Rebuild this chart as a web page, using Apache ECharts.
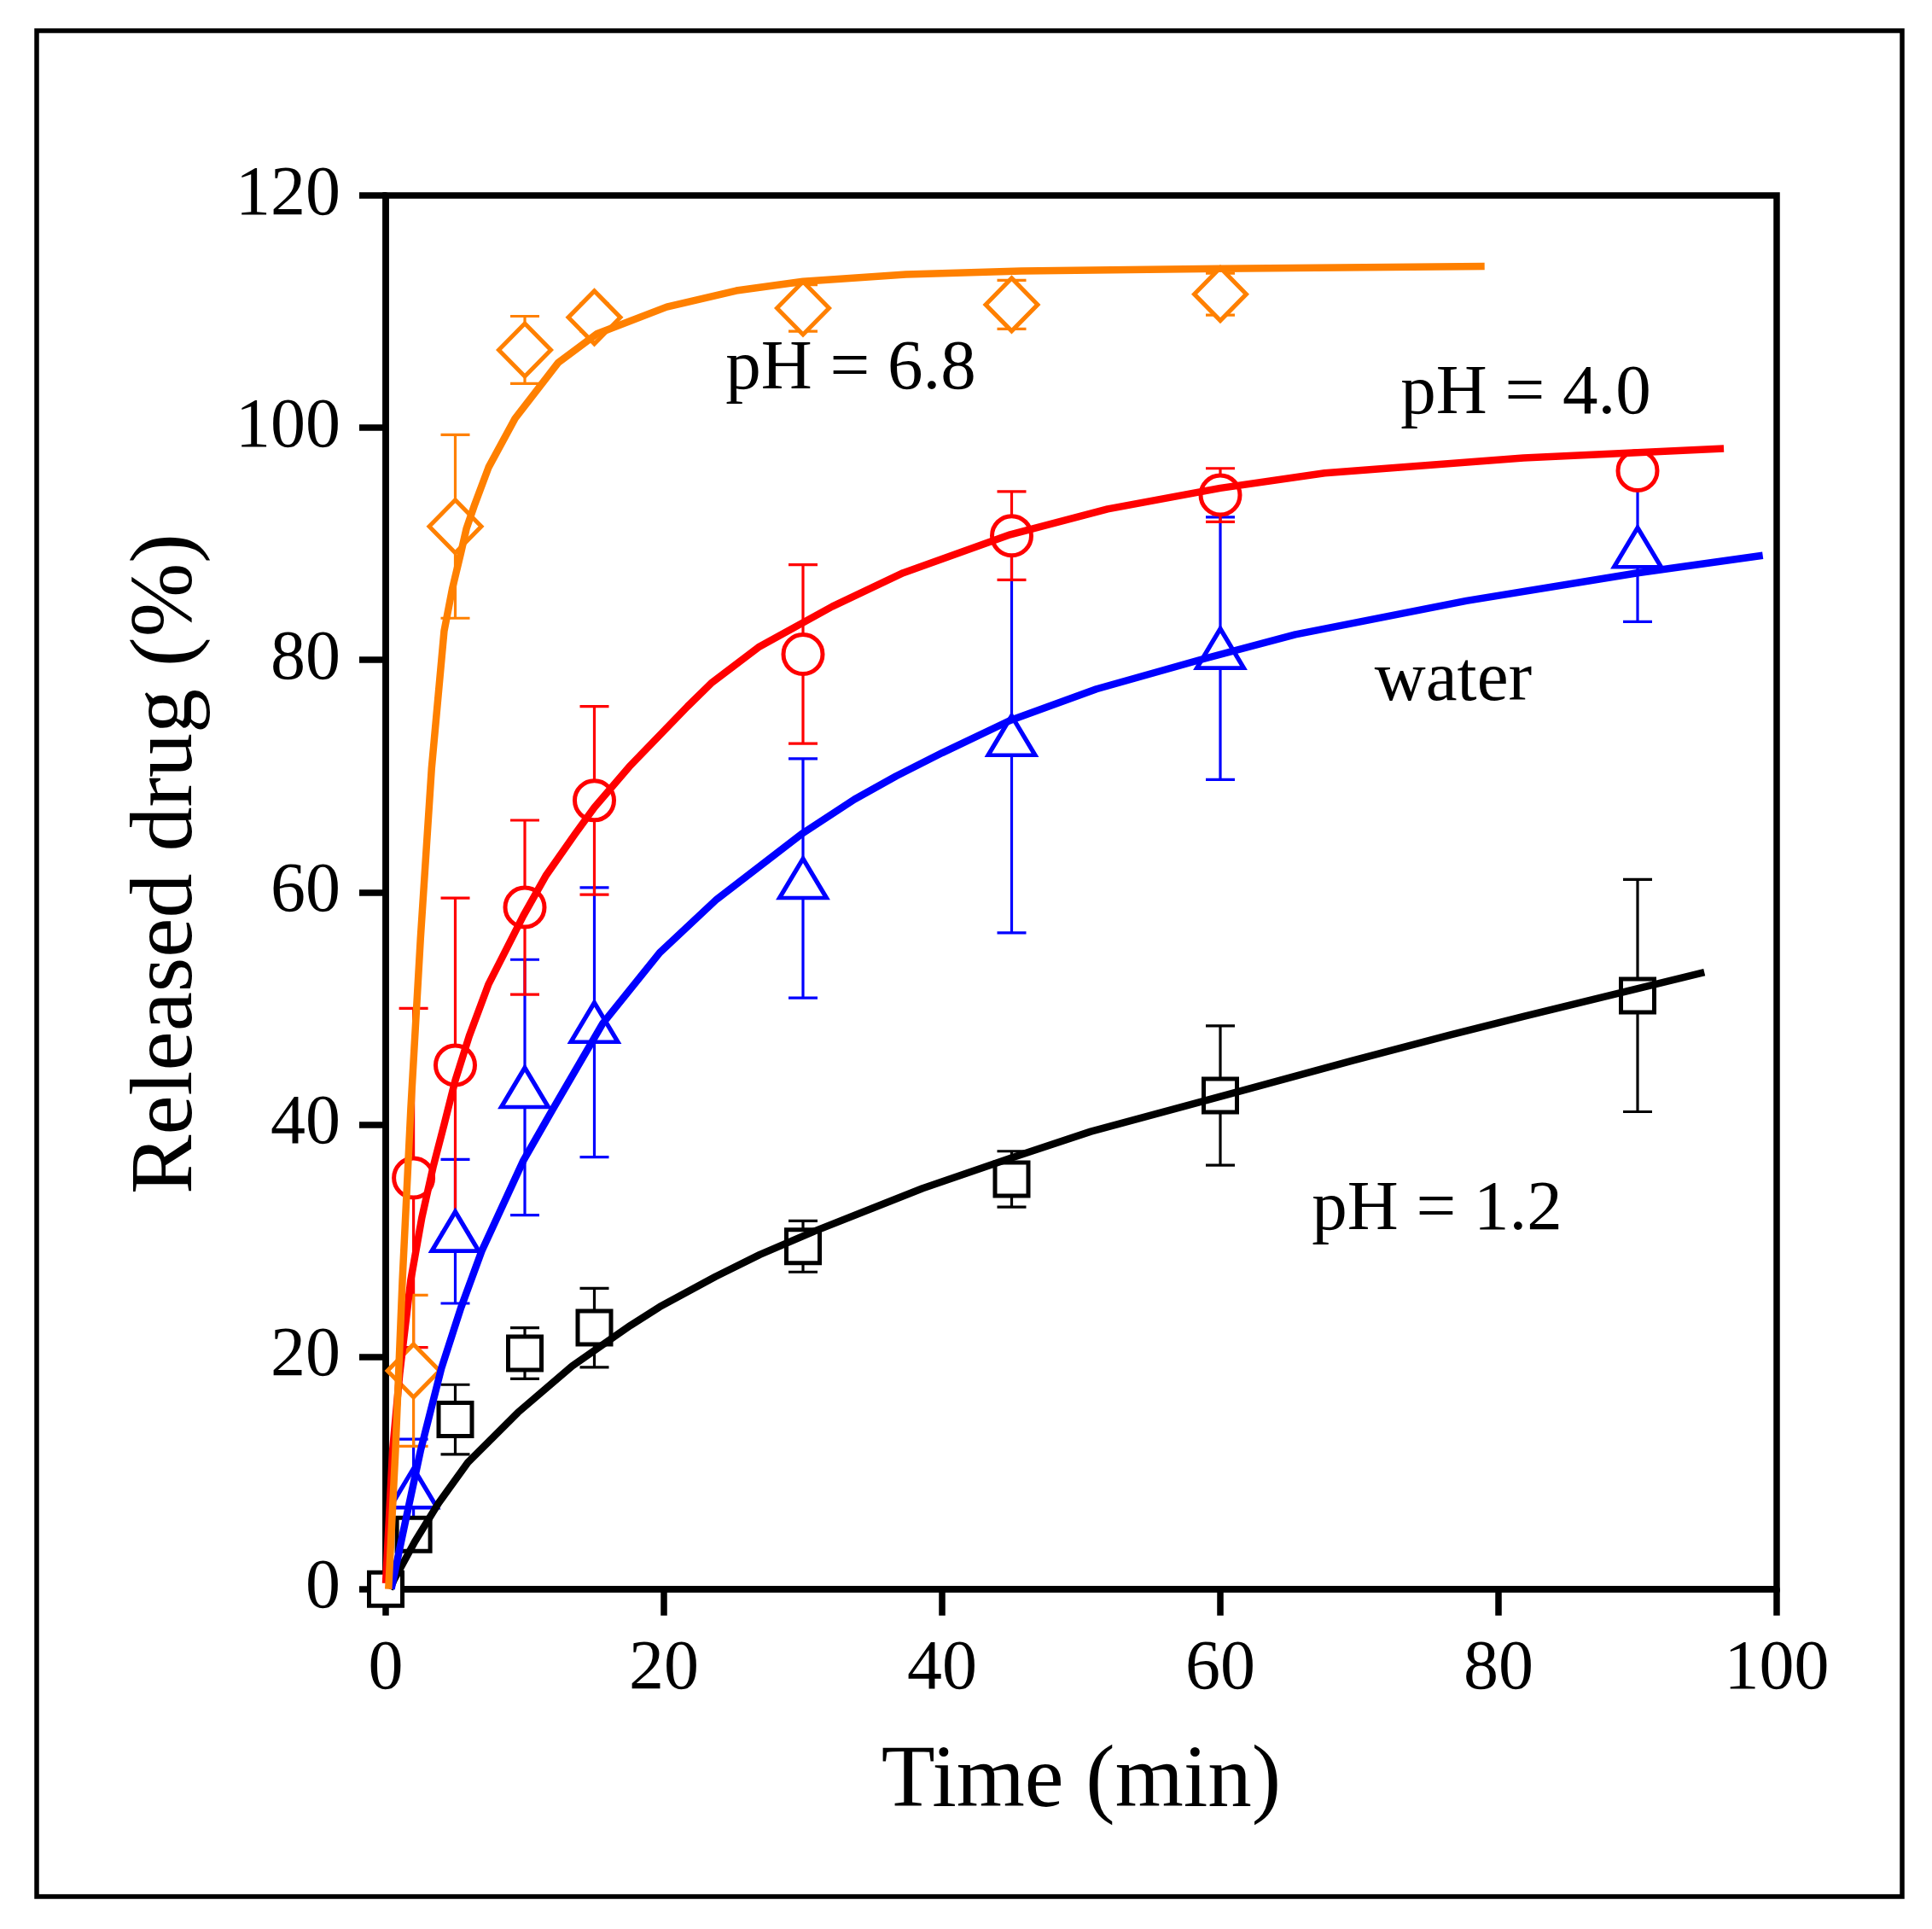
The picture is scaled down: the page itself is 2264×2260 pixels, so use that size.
<!DOCTYPE html>
<html>
<head>
<meta charset="utf-8">
<script src="https://cdn.jsdelivr.net/npm/echarts/dist/echarts.min.js"></script>
<style>
    html, body { margin: 0; padding: 0; background: #fff; }
    #main { width: 2264px; height: 2260px; }
</style>
</head>
<body>
<div id="main"></div>
<script>
// axis ticks
const xTicks = [0, 20, 40, 60, 80, 100];
const yTicks = [0, 20, 40, 60, 80, 100, 120];

// measured points (mean and error bar half-length)
const ph12Times = [0, 2, 5, 10, 15, 30, 45, 60, 90];
const ph12 = [0, 4.7, 14.6, 20.3, 22.5, 29.5, 35.3, 42.5, 51.1];
const ph12Err = [0, 1.0, 3.0, 2.2, 3.4, 2.2, 2.4, 6.0, 10.0];

const waterTimes = [2, 5, 10, 15, 30, 45, 60, 90];
const water = [8.7, 30.8, 43.2, 48.8, 61.2, 73.5, 81.0, 89.7];
const waterErr = [4.2, 6.2, 11.0, 11.6, 10.3, 17.0, 11.3, 6.4];

const ph40Times = [2, 5, 10, 15, 30, 45, 60, 90];
const ph40 = [35.4, 45.1, 58.7, 67.9, 80.5, 90.7, 94.2, 96.3];
const ph40Err = [14.6, 14.4, 7.5, 8.1, 7.7, 3.8, 2.3, 1.0];

const ph68Times = [2, 5, 10, 15, 30, 45, 60];
const ph68 = [18.8, 91.5, 106.7, 109.5, 110.3, 110.6, 111.5];
const ph68Err = [6.5, 7.9, 2.9, 1.2, 2.0, 2.1, 1.8];

// fitted curves [time, released]
const fitPh12 = [[0.3, 0], [0.6, 0.8], [2.1, 4.1], [3.8, 7.4], [5.9, 10.9], [9.5, 15.2],
    [13.4, 19.2], [15.2, 20.7], [17.6, 22.7], [19.7, 24.3], [23.7, 26.9], [26.9, 28.8], [30.8, 30.8],
    [35, 32.8], [38.6, 34.5], [44.9, 37.1], [50.7, 39.4], [60.3, 42.5], [69.5, 45.5], [76.5, 47.7],
    [81.8, 49.3], [94.8, 53.1]];
const fitWater = [[0.4, 0], [1.2, 4.6], [2.5, 11.9], [4.0, 19.0], [5.4, 24.2], [6.9, 29.1], [9.9, 36.9],
    [12.0, 41.3], [15.6, 48.7], [19.7, 54.8], [23.8, 59.4], [30, 65.1], [33.7, 68.0], [36.7, 70.0],
    [40, 72.0], [44.9, 74.8], [51.1, 77.5], [58.5, 80.0], [65.4, 82.2], [77.7, 85.1], [90, 87.5], [99, 89.0]];
const fitPh40 = [[0, 0.5], [0.5, 12], [1.0, 18.5], [1.8, 26.6], [2.6, 32], [3.4, 36.3], [4.2, 40],
    [5.0, 43.8], [6.0, 47.6], [7.4, 52.1], [9.9, 58.0], [11.5, 61.4], [13.6, 65.0], [15, 67.3], [17.5, 70.8],
    [21.7, 76.0], [23.4, 78.0], [26.8, 81.1], [32.1, 84.6], [37.2, 87.5], [44.9, 90.8], [51.9, 93.0],
    [60, 94.8], [67.5, 96.1], [81.8, 97.4], [96.2, 98.2]];
const fitPh68 = [[0.2, 0], [0.7, 11.9], [1.2, 26.6], [1.8, 41.3], [2.5, 56], [3.3, 70.7], [4.2, 82.5],
    [4.8, 86.2], [5.4, 89.2], [5.8, 91.3], [6.4, 93.4], [7.4, 96.6], [9.3, 100.8], [12.4, 105.6], [15.2, 108.1],
    [20.2, 110.4], [25.2, 111.8], [30, 112.6], [37.4, 113.2], [45.7, 113.5], [60, 113.7], [79, 113.9]];

const FONT = "Liberation Serif";
const ORANGE = "#ff8000";

function errorBars(color, xs, ys, es) {
    return {
        type: "custom",
        silent: true,
        data: xs.map((x, i) => [x, ys[i], es[i]]),
        encode: { x: 0, y: 1 },
        renderItem: (params, api) => {
            const x = api.value(0), y = api.value(1), e = api.value(2);
            if (!e) return;
            const hi = api.coord([x, y + e]);
            const lo = api.coord([x, y - e]);
            const w = 17;
            const style = { stroke: color, lineWidth: 3.2, fill: null };
            return {
                type: "group",
                children: [
                    { type: "line", shape: { x1: hi[0], y1: hi[1], x2: lo[0], y2: lo[1] }, style: style },
                    { type: "line", shape: { x1: hi[0] - w, y1: hi[1], x2: hi[0] + w, y2: hi[1] }, style: style },
                    { type: "line", shape: { x1: lo[0] - w, y1: lo[1], x2: lo[0] + w, y2: lo[1] }, style: style }
                ]
            };
        }
    };
}

function points(color, xs, ys, symbol, size) {
    return {
        type: "scatter",
        silent: true,
        data: xs.map((x, i) => [x, ys[i]]),
        symbol: symbol,
        symbolSize: size,
        itemStyle: { color: "#fff", borderColor: color, borderWidth: 5, opacity: 1 }
    };
}

function fit(color, data) {
    return {
        type: "line",
        silent: true,
        data: data,
        showSymbol: false,
        symbol: "none",
        z: 3,
        lineStyle: { color: color, width: 8.5, join: "round" }
    };
}

function label(text, x, y) {
    return {
        type: "text", x: x, y: y, silent: true,
        style: { text: text, fontSize: 83, fontFamily: FONT, fill: "#000", align: "center", verticalAlign: "middle" }
    };
}

const chart = echarts.init(document.getElementById("main"));

const option = {
    animation: false,
    backgroundColor: "#fff",
    grid: {
        left: 452, top: 229, width: 1630, height: 1632.7,
        show: true, borderColor: "#000", borderWidth: 7.5, backgroundColor: "transparent"
    },
    xAxis: {
        type: "value",
        min: xTicks[0], max: xTicks[xTicks.length - 1], interval: xTicks[1] - xTicks[0],
        name: "Time (min)",
        nameLocation: "middle",
        nameGap: 176,
        nameTextStyle: { fontSize: 103, fontFamily: FONT, color: "#000" },
        axisLine: { lineStyle: { color: "#000", width: 7.5 } },
        axisTick: { length: 31, lineStyle: { color: "#000", width: 7.5 } },
        axisLabel: { margin: 54, fontSize: 82, fontFamily: FONT, color: "#000" },
        splitLine: { show: false }
    },
    yAxis: {
        type: "value",
        min: yTicks[0], max: yTicks[yTicks.length - 1], interval: yTicks[1] - yTicks[0],
        axisLine: { lineStyle: { color: "#000", width: 7.5 } },
        axisTick: { length: 31, lineStyle: { color: "#000", width: 7.5 } },
        axisLabel: { margin: 53, fontSize: 82, fontFamily: FONT, color: "#000" },
        splitLine: { show: false }
    },
    graphic: [
        {
            type: "rect", silent: true,
            shape: { x: 43, y: 36, width: 2186, height: 2186 },
            style: { fill: null, stroke: "#000", lineWidth: 5.5 }
        },
        {
            type: "text", x: 197, y: 1012, rotation: Math.PI / 2, silent: true,
            style: { text: "Released drug (%)", fontSize: 104, fontFamily: FONT, fill: "#000", align: "center", verticalAlign: "middle" }
        },
        label("pH = 6.8", 997, 433),
        label("pH = 4.0", 1788, 462),
        label("water", 1703, 798),
        label("pH = 1.2", 1684, 1418)
    ],
    series: [
        errorBars("#000", ph12Times, ph12, ph12Err),
        points("#000", ph12Times, ph12, "rect", 39),
        errorBars("#0000ff", waterTimes, water, waterErr),
        points("#0000ff", waterTimes, water, "triangle", [55, 46]),
        errorBars("#ff0000", ph40Times, ph40, ph40Err),
        points("#ff0000", ph40Times, ph40, "circle", 46),
        errorBars(ORANGE, ph68Times, ph68, ph68Err),
        points(ORANGE, ph68Times, ph68, "diamond", [61, 62]),
        fit("#000", fitPh12),
        fit("#0000ff", fitWater),
        fit("#ff0000", fitPh40),
        fit(ORANGE, fitPh68)
    ]
};

chart.setOption(option);
</script>
</body>
</html>
